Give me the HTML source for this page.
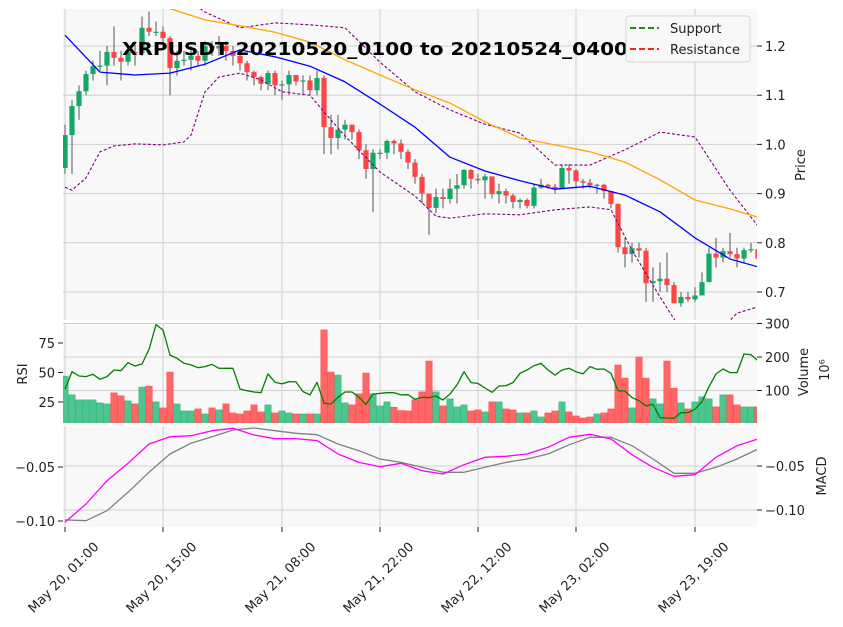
<!DOCTYPE html>
<html><head><meta charset="utf-8">
<style>
html,body{margin:0;padding:0;background:#fff;}
svg{display:block;font-family:"DejaVu Sans","Liberation Sans",sans-serif;}
</style></head>
<body>
<svg id="chart" width="843" height="627" viewBox="0 0 843 627" xmlns="http://www.w3.org/2000/svg">
<defs>
<clipPath id="cp"><rect x="63" y="9" width="694" height="311"/></clipPath>
<clipPath id="cv"><rect x="63" y="323" width="694" height="100"/></clipPath>
<clipPath id="cm"><rect x="63" y="426" width="694" height="101"/></clipPath>
</defs>
<rect x="63" y="9" width="694" height="311" fill="#f8f8f8"/>
<rect x="63" y="323" width="694" height="100" fill="#f8f8f8"/>
<rect x="63" y="426" width="694" height="101" fill="#f8f8f8"/>
<g id="grid"></g>
<g id="marks"></g>
<g id="axes" font-size="13" fill="#222"></g>
<text x="375" y="55" text-anchor="middle" font-size="18" font-weight="bold" textLength="506" lengthAdjust="spacingAndGlyphs" fill="#000">XRPUSDT 20210520_0100 to 20210524_0400</text>
<g>
<rect x="626" y="16" width="124" height="46" rx="3" fill="#f8f8f8" stroke="#d6d6d6"/>
<line x1="630" y1="28" x2="659" y2="28" stroke="green" stroke-width="1.8" stroke-dasharray="6,3"/>
<text x="670" y="33" font-size="13" fill="#222">Support</text>
<line x1="630" y1="49" x2="659" y2="49" stroke="red" stroke-width="1.8" stroke-dasharray="6,3"/>
<text x="670" y="54" font-size="13" fill="#222">Resistance</text>
</g>
</svg>
<script>
const closes=[1.019,1.078,1.108,1.143,1.159,1.16,1.188,1.176,1.168,1.188,
1.185,1.237,1.229,1.229,1.216,1.155,1.17,1.172,1.18,1.17,
1.20,1.195,1.20,1.19,1.18,1.165,1.147,1.137,1.123,1.145,
1.12,1.122,1.141,1.128,1.13,1.11,1.135,1.035,1.013,1.03,
1.04,1.025,0.988,0.95,0.983,0.983,1.007,1.002,0.985,0.963,
0.934,0.90,0.871,0.893,0.889,0.91,0.917,0.948,0.93,0.927,
0.935,0.899,0.905,0.896,0.883,0.887,0.875,0.912,0.918,0.914,
0.910,0.952,0.947,0.925,0.922,0.917,0.918,0.905,0.879,0.791,
0.777,0.789,0.784,0.718,0.722,0.727,0.714,0.677,0.69,0.685,
0.693,0.72,0.778,0.77,0.783,0.777,0.768,0.785,0.787,0.768];
const firstOpen=0.952;
const highs=[1.04,1.09,1.12,1.15,1.17,1.19,1.20,1.24,1.19,1.20,
1.21,1.26,1.27,1.25,1.24,1.22,1.19,1.19,1.20,1.19,
1.21,1.21,1.22,1.21,1.20,1.19,1.17,1.15,1.14,1.15,
1.15,1.13,1.15,1.14,1.14,1.14,1.15,1.14,1.06,1.06,
1.05,1.04,1.03,1.00,0.99,0.99,1.01,1.01,1.01,0.99,
0.97,0.94,0.90,0.91,0.91,0.93,0.94,0.95,0.95,0.94,
0.94,0.93,0.92,0.91,0.90,0.89,0.89,0.92,0.93,0.92,
0.92,0.96,0.96,0.95,0.93,0.93,0.92,0.92,0.905,0.88,
0.81,0.80,0.80,0.79,0.75,0.76,0.78,0.72,0.70,0.70,
0.71,0.74,0.79,0.81,0.79,0.82,0.79,0.79,0.80,0.79];
const lows=[0.94,0.94,1.05,1.10,1.13,1.15,1.12,1.16,1.13,1.16,
1.16,1.18,1.22,1.22,1.20,1.10,1.14,1.16,1.15,1.16,
1.16,1.18,1.18,1.17,1.16,1.15,1.13,1.12,1.11,1.11,
1.10,1.09,1.10,1.12,1.10,1.10,1.10,0.98,0.98,0.99,
1.01,1.01,0.97,0.93,0.862,0.97,0.97,0.98,0.97,0.95,
0.92,0.88,0.816,0.86,0.87,0.88,0.88,0.91,0.91,0.92,
0.89,0.89,0.88,0.88,0.87,0.87,0.87,0.87,0.91,0.91,
0.90,0.91,0.92,0.91,0.91,0.91,0.90,0.89,0.87,0.78,
0.75,0.76,0.77,0.68,0.68,0.70,0.70,0.68,0.67,0.68,
0.68,0.70,0.72,0.75,0.76,0.77,0.75,0.76,0.78,0.76];
const volumes=[143,87,72,72,72,63,60,93,84,69,
60,110,113,66,48,155,60,39,39,45,
30,48,42,60,33,30,39,57,36,57,
33,39,33,30,30,30,30,281,155,146,
63,57,90,152,90,54,66,50,40,39,
72,96,188,96,54,75,51,57,39,42,
36,66,66,45,42,33,33,39,21,33,
39,66,36,24,18,21,30,33,45,176,
137,48,200,137,75,60,188,107,63,45,
66,81,75,51,87,87,57,51,51,51];
const rsi=[35.8,50.7,47.0,46.5,48.5,44.2,46.5,52.1,51.5,58.3,
55.5,57.2,69.6,90.5,86.0,64.8,62.0,57.8,56.4,54.1,
55.0,56.9,53.6,53.6,53.6,36.0,34.6,33.5,32.9,48.8,
41.7,40.3,42.3,42.0,33.8,31.0,41.7,23.9,23.3,29.0,
33.5,33.5,29.0,23.0,31.8,32.3,32.9,32.9,31.0,31.2,
27.3,29.0,28.7,30.1,26.7,31.8,39.5,50.7,41.4,40.8,
36.9,33.2,38.6,38.9,41.4,49.3,52.1,55.8,57.8,52.1,
47.8,52.1,53.6,50.7,48.8,55.0,52.7,53.0,49.3,34.6,
34.3,28.7,26.2,21.7,23.0,11.7,11.4,11.2,16.0,16.0,
18.8,25.3,38.0,48.8,53.0,49.9,49.9,65.7,65.1,60.0];
const macdIdx=[0,3,6,9,12,15,18,21,24,27,30,33,36,39,42,45,48,51,54,57,60,63,66,69,72,75,78,81,84,87,90,93,96,99];
const macdLine=[-0.1012,-0.0843,-0.0627,-0.0466,-0.0287,-0.022,-0.021,-0.0164,-0.0142,-0.0204,-0.0238,-0.0238,-0.0256,-0.038,-0.0457,-0.0497,-0.0466,-0.0534,-0.0565,-0.0479,-0.041,-0.0401,-0.038,-0.0318,-0.0225,-0.0197,-0.0241,-0.0386,-0.0503,-0.0586,-0.0571,-0.041,-0.0303,-0.0241];
const signalLine=[-0.099,-0.0997,-0.0905,-0.0734,-0.0549,-0.038,-0.028,-0.022,-0.0157,-0.0139,-0.0164,-0.0188,-0.0201,-0.0287,-0.0349,-0.0426,-0.0457,-0.0503,-0.0549,-0.0549,-0.0503,-0.0457,-0.0426,-0.038,-0.0294,-0.0225,-0.0225,-0.0303,-0.0426,-0.0558,-0.0558,-0.0503,-0.0426,-0.0333];
const maIdx=[0,5,10,15,20,25,30,35,40,45,50,55,60,65,70,75,80,85,90,95,99];
const maFast=[1.222,1.147,1.141,1.145,1.163,1.192,1.178,1.159,1.127,1.082,1.035,0.974,0.946,0.926,0.909,0.915,0.897,0.863,0.81,0.767,0.751];
const maSlowIdx=[13,20,25,30,35,40,45,50,55,60,65,70,75,80,85,90,95,99];
const maSlow=[1.285,1.253,1.241,1.228,1.208,1.172,1.141,1.111,1.084,1.046,1.013,0.999,0.985,0.964,0.928,0.887,0.869,0.852];
const bbUpIdx=[17,20,25,30,35,40,45,50,55,60,65,70,75,80,85,90,95,99];
const bbUpper=[1.30,1.269,1.237,1.247,1.243,1.237,1.167,1.107,1.07,1.041,1.023,0.958,0.958,0.989,1.025,1.015,0.907,0.834];
const bbLowIdx=[0,1,3,5,7,10,14,17,18,20,22,25,28,31,35,37,40,45,50,53,55,60,65,70,75,78,81,85,88,93,96,99];
const bbLower=[0.913,0.907,0.932,0.985,0.997,1.001,0.999,1.005,1.019,1.107,1.137,1.145,1.131,1.107,1.1,1.066,1.017,0.944,0.895,0.854,0.85,0.859,0.857,0.867,0.873,0.867,0.785,0.69,0.623,0.613,0.657,0.67];
const priceTicks=[1.2,1.1,1.0,0.9,0.8,0.7];
const volTicks=[100,200,300];
const rsiTicks=[25,50,75];
const macdTicks=[-0.05,-0.10];
const macdRightTicks=[-0.05,-0.10];
const xTickIdx=[0,14,31,45,59,73,90];
const xTickLabels=["May 20, 01:00","May 20, 15:00","May 21, 08:00","May 21, 22:00","May 22, 12:00","May 23, 02:00","May 23, 19:00"];

const NS="http://www.w3.org/2000/svg";
const xOf=i=>65+7*i;
const yP=p=>46+(1.2-p)*492;
const yV=v=>424-v*0.335;
const yR=r=>431.5-r*1.18;
const yM=m=>467+(-0.05-m)*1080;
const yMR=m=>466+(-0.05-m)*880;
function mk(tag,attrs,parent){const e=document.createElementNS(NS,tag);for(const k in attrs)e.setAttribute(k,attrs[k]);parent.appendChild(e);return e;}
const grid=document.getElementById('grid'),marks=document.getElementById('marks'),axes=document.getElementById('axes');
const gs={stroke:"#d0d0d0","stroke-width":1};
xTickIdx.forEach((i,k)=>{
 [[9,320],[323,423],[426,527]].forEach(r=>{const l=mk('line',Object.assign({x1:xOf(i),x2:xOf(i),y1:r[0],y2:r[1]},gs),grid);
 
 });
 const t=mk('line',{x1:xOf(i),x2:xOf(i),y1:527,y2:532,stroke:"#222"},axes);
 
 
 const ax=xOf(i)-1, ay=578;
 const tx=mk('text',{x:ax,y:ay,"text-anchor":"middle","dominant-baseline":"central",transform:`rotate(-45 ${ax} ${ay})`,"font-size":13},axes);
 tx.textContent=xTickLabels[k];
 
 
});
priceTicks.forEach(p=>{
 const l=mk('line',Object.assign({x1:63,x2:757,y1:yP(p),y2:yP(p)},gs),grid);
 
 
 mk('line',{x1:757,x2:762,y1:yP(p),y2:yP(p),stroke:"#222"},axes);
 const t=mk('text',{x:765,y:yP(p)+5},axes);t.textContent=p.toFixed(1);
 
 
});
volTicks.forEach(v=>{
 const l=mk('line',Object.assign({x1:63,x2:757,y1:yV(v),y2:yV(v)},gs),grid);
 
 
 mk('line',{x1:757,x2:762,y1:yV(v),y2:yV(v),stroke:"#222"},axes);
 const t=mk('text',{x:765,y:yV(v)+5},axes);t.textContent=v;
 
 
});
rsiTicks.forEach(r=>{
 mk('line',{x1:58,x2:63,y1:yR(r),y2:yR(r),stroke:"#222"},axes);
 const t=mk('text',{x:55,y:yR(r)+5,"text-anchor":"end"},axes);t.textContent=r;
 
 
});
macdRightTicks.forEach(m=>{
 const l=mk('line',Object.assign({x1:63,x2:757,y1:yMR(m),y2:yMR(m)},gs),grid);
 
 
 mk('line',{x1:757,x2:762,y1:yMR(m),y2:yMR(m),stroke:"#222"},axes);
 const t=mk('text',{x:765,y:yMR(m)+5},axes);t.textContent=m.toFixed(2).replace('-','−');
 
 
});
macdTicks.forEach(m=>{
 mk('line',{x1:58,x2:63,y1:yM(m),y2:yM(m),stroke:"#222"},axes);
 const t=mk('text',{x:55,y:yM(m)+5,"text-anchor":"end"},axes);t.textContent=m.toFixed(2).replace('-','−');
 
 
});
function lab(txt,x,y,name,size){const t=mk('text',{x:x,y:y,transform:`rotate(-90 ${x} ${y})`,"text-anchor":"middle","font-size":size||13},axes);t.textContent=txt;
 
 }
lab("Price",805,165,'price-axis-title');
lab("Volume",808,372,'volume-axis-title');
lab("10⁶",829,370,'volume-scale-label');
lab("RSI",27,374,'rsi-axis-title');
lab("MACD",826,476,'macd-axis-title');

const gv=mk('g',{"clip-path":"url(#cv)"},marks);
const gr=mk('g',{"clip-path":"url(#cm)"},marks);
closes.forEach((c,i)=>{
 const o=i===0?firstOpen:closes[i-1];const up=c>=o;
 const b=mk('rect',{x:xOf(i)-3.2,y:yV(volumes[i]),width:6.4,height:424-yV(volumes[i]),fill:up?"#4cc58e":"#ff6666",stroke:up?"#3dbb83":"#ff5555","stroke-width":0.6},gv);
 
 
});
function poly(idx,vals,yf,attrs,parent,name){
 const pts=vals.map((v,k)=>xOf(idx?idx[k]:k)+","+yf(v).toFixed(1)).join(" ");
 const p=mk('polyline',Object.assign({points:pts,fill:"none","stroke-linejoin":"round"},attrs),parent);
 
 
}
poly(null,rsi,yR,{stroke:"green","stroke-width":1.3},gv,'rsi-line');
poly(macdIdx,signalLine,yM,{stroke:"#808080","stroke-width":1.3},gr,'macd-signal-line');
poly(macdIdx,macdLine,yM,{stroke:"magenta","stroke-width":1.3},gr,'macd-line');

const gp=mk('g',{"clip-path":"url(#cp)"},marks);
closes.forEach((c,i)=>{
 const o=i===0?firstOpen:closes[i-1];const up=c>=o;const col=up?"#14a866":"#ff4444";
 const w=mk('line',{x1:xOf(i),x2:xOf(i),y1:yP(highs[i]),y2:yP(lows[i]),stroke:"#555","stroke-width":1},gp);
 
 
 const top=yP(Math.max(o,c)),bot=yP(Math.min(o,c));
 const b=mk('rect',{x:xOf(i)-2.6,y:top,width:5.2,height:Math.max(1.2,bot-top),fill:col},gp);
 
 
});
poly(bbUpIdx,bbUpper,yP,{stroke:"purple","stroke-width":1.1,"stroke-dasharray":"3,2"},gp,'bollinger-upper');
poly(bbLowIdx,bbLower,yP,{stroke:"purple","stroke-width":1.1,"stroke-dasharray":"3,2"},gp,'bollinger-lower');
poly(maSlowIdx,maSlow,yP,{stroke:"orange","stroke-width":1.3},gp,'ma-slow-line');
poly(maIdx,maFast,yP,{stroke:"blue","stroke-width":1.3},gp,'ma-fast-line');
</script>
</body></html>
